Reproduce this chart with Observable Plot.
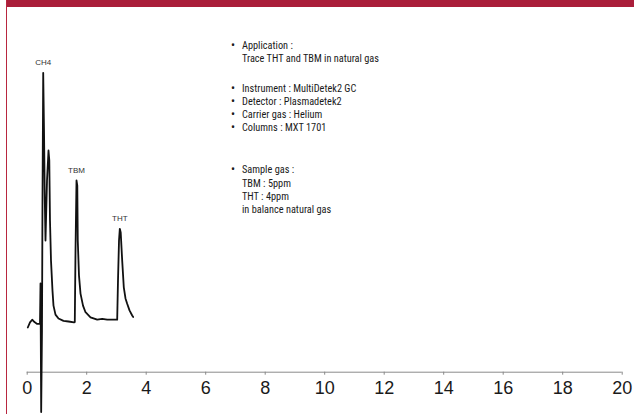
<!DOCTYPE html>
<html>
<head>
<meta charset="utf-8">
<script src="https://cdn.jsdelivr.net/npm/d3@7"></script>
<script src="https://cdn.jsdelivr.net/npm/@observablehq/plot@0.6"></script>
<style>
  html, body { margin: 0; padding: 0; background: #fff; }
  #wrap { position: relative; width: 634px; height: 414px; overflow: hidden; background: #fff; }
  #banner { position: absolute; left: 6px; top: 0; width: 628px; height: 7px; background: #AA1E3A; }
  #edge { position: absolute; left: 6px; top: 0; width: 1px; height: 414px; background: #B8263F; }
  #chart { position: absolute; left: 0; top: 0; }
  #notes { position: absolute; left: 231px; top: 39px; font-family: "Liberation Sans Narrow", "Roboto Condensed", "Liberation Sans", Arial, sans-serif; font-size: 10.3px; line-height: 13.3px; color: #1a1a1a; }
  #notes .item { position: relative; padding-left: 11px; }
  #notes .item::before { content: "\2022"; position: absolute; left: 0; top: 0; font-size: 12px; line-height: 13.3px; }
  g[aria-label="x-axis tick"] { stroke: #888; }
  g[aria-label="x-axis"] .tick line { stroke: #888; }
</style>
</head>
<body>
<div id="wrap">
  <div id="chart"></div>
  <div id="banner"></div>
  <div id="edge"></div>
  <div id="notes"></div>
</div>
<script>
// Retention time (min)
const times = [0.02, 0.094, 0.168, 0.245, 0.336, 0.43, 0.447, 0.47, 0.497, 0.514, 0.538, 0.565, 0.592, 0.615, 0.666, 0.716, 0.743, 0.766, 0.8, 0.85, 0.884, 0.951, 1.052, 1.22, 1.388, 1.573, 1.6, 1.624, 1.657, 1.684, 1.7, 1.741, 1.792, 1.876, 1.96, 2.128, 2.353, 2.521, 2.689, 2.985, 3.025, 3.052, 3.086, 3.113, 3.143, 3.193, 3.247, 3.304, 3.361, 3.439, 3.529, 3.563];
// Detector signal (arbitrary units)
const signal = [14.9, 16.6, 17.5, 16.7, 16.1, 16.2, 29.6, -13.3, 13.9, 57.2, 99.8, 80.6, 57.2, 43.9, 63.9, 73.9, 70.6, 50.6, 37.2, 27.2, 22.2, 19.2, 17.9, 17.1, 16.9, 16.6, 16.7, 40.6, 63.9, 62.2, 43.9, 32.2, 26.2, 22.2, 20.0, 18.3, 17.5, 17.8, 17.5, 17.5, 17.5, 30.6, 43.9, 47.8, 46.6, 37.2, 28.3, 24.6, 22.8, 20.6, 18.9, 18.4];

// Peak labels
const peakNames = ["CH4", "TBM", "THT"];
const peakTimes = [0.538, 1.657, 3.113];
const peakHeights = [99.8, 63.9, 47.8];

// X axis ticks
const xTicks = [0, 2, 4, 6, 8, 10, 12, 14, 16, 18, 20];

// Notes
const noteItems = [
  ["Application :", "Trace THT and TBM in natural gas"],
  ["Instrument : MultiDetek2 GC"],
  ["Detector : Plasmadetek2"],
  ["Carrier gas : Helium"],
  ["Columns : MXT 1701"],
  ["Sample gas :", "TBM : 5ppm", "THT : 4ppm", "in balance natural gas"]
];
const noteGapsBefore = [0, 16, 0, 0, 0, 28.5];

const trace = times.map((t, i) => ({t, v: signal[i]}));
const peaks = peakNames.map((name, i) => ({name, t: peakTimes[i], v: peakHeights[i]}));

const chart = Plot.plot({
  width: 634,
  height: 414,
  marginTop: 10,
  marginBottom: 42.3,
  marginLeft: 26.7,
  marginRight: 12.3,
  style: {fontFamily: "'Liberation Sans', Arial, sans-serif", fontSize: "18px", color: "#1a1a1a", background: "transparent", overflow: "visible"},
  x: {domain: [0, 20], range: [26.7, 621.7], ticks: xTicks, tickSize: 3, tickPadding: 6, tickFormat: d => String(d), label: null},
  y: {domain: [0, 100], range: [371.7, 71.7], axis: null},
  marks: [
    Plot.ruleY([0], {x1: 0, x2: 20, stroke: "#8a8a8a", strokeWidth: 1}),
    Plot.line(trace, {x: "t", y: "v", stroke: "#111", strokeWidth: 1.8, strokeLinejoin: "round"}),
    Plot.text(peaks, {x: "t", y: "v", text: "name", dy: -10, fontSize: 8, fill: "#333", fontFamily: "'Liberation Sans', Arial, sans-serif"})
  ]
});
document.getElementById("chart").appendChild(chart);

const notes = d3.select("#notes");
noteItems.forEach((lines, i) => {
  const item = notes.append("div").attr("class", "item").style("margin-top", noteGapsBefore[i] + "px");
  lines.forEach(line => item.append("div").text(line));
});
</script>
</body>
</html>
